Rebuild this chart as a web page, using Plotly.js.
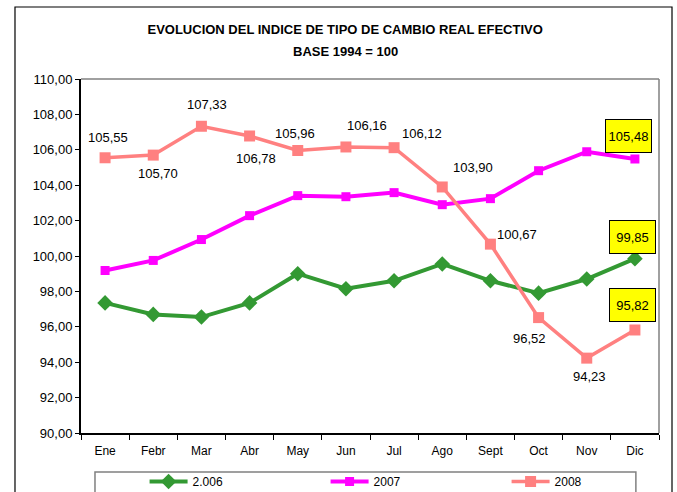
<!DOCTYPE html>
<html>
<head>
<meta charset="utf-8">
<script src="https://cdn.plot.ly/plotly-3.0.1.min.js"></script>
<style>html,body{margin:0;padding:0;background:#fff}#chart{width:677px;height:492px}</style>
</head>
<body>
<div id="chart"></div>
<script>
var months = ["Ene","Febr","Mar","Abr","May","Jun","Jul","Ago","Sept","Oct","Nov","Dic"];
var seriesNames = ["2.006","2007","2008"];
var values2006 = [97.35, 96.70, 96.55, 97.35, 99.00, 98.15, 98.60, 99.55, 98.60, 97.90, 98.70, 99.85];
var values2007 = [99.18, 99.75, 100.93, 102.28, 103.41, 103.35, 103.58, 102.90, 103.24, 104.82, 105.89, 105.48];
var values2008 = [105.55, 105.70, 107.33, 106.78, 105.96, 106.16, 106.12, 103.90, 100.67, 96.52, 94.23, 95.82];
var yTicks = [90,92,94,96,98,100,102,104,106,108,110];
var titleLine1 = 'EVOLUCION DEL INDICE DE TIPO DE CAMBIO REAL EFECTIVO';
var titleLine2 = 'BASE 1994 = 100';

// label offsets (px) for the 2008 series labels
var lblDx2008 = [3,5,6,6,-3,21,28,31,27,-9,3,-2];
var lblDy2008 = [20,-18,22,-23,17,21,14,19,10,-21,-18,25];

function fmt(v){ return v.toFixed(2).replace('.', ','); }

var font = "Liberation Sans, Arial, sans-serif";

var traces = [
  {x: months, y: values2006, name: seriesNames[0], type: 'scatter', mode: 'lines+markers',
   line: {color: '#339933', width: 4}, marker: {symbol: 'diamond', size: 12, color: '#339933'}},
  {x: months, y: values2007, name: seriesNames[1], type: 'scatter', mode: 'lines+markers',
   line: {color: '#FF00FF', width: 4}, marker: {symbol: 'square', size: 9, color: '#FF00FF'}},
  {x: months, y: values2008, name: seriesNames[2], type: 'scatter', mode: 'lines+markers',
   line: {color: '#FF8080', width: 3.5}, marker: {symbol: 'square', size: 11, color: '#FF8080'}}
];

var annotations = [];
for (var i = 0; i < months.length - 1; i++) {
  annotations.push({x: months[i], y: values2008[i], xref: 'x', yref: 'y', text: fmt(values2008[i]),
    showarrow: false, xshift: lblDx2008[i], yshift: lblDy2008[i], font: {family: font, size: 13, color: '#000'}});
}
var last = months.length - 1;
var boxed = [[values2007[last], -6, 23], [values2006[last], -2, 22], [values2008[last], -2, 25]];
boxed.forEach(function(b){
  annotations.push({x: months[last], y: b[0], xref: 'x', yref: 'y', text: fmt(b[0]), showarrow: false,
    xshift: b[1], yshift: b[2], bgcolor: '#FFFF00', bordercolor: '#000', borderwidth: 1,
    width: 43, height: 30, font: {family: font, size: 13, color: '#000'}});
});
annotations.push({x: 0.457, y: (433-52)/354, xref: 'paper', yref: 'paper', text: '<b>' + titleLine2 + '</b>',
  showarrow: false, xanchor: 'center', yanchor: 'middle', font: {family: font, size: 13, color: '#000'}});

var layout = {
  width: 677, height: 492,
  margin: {l: 81, r: 18, t: 79, b: 59, autoexpand: false},
  paper_bgcolor: '#fff', plot_bgcolor: '#fff',
  separators: ',.',
  showlegend: true,
  title: {
    text: '<b>' + titleLine1 + '</b>',
    font: {family: font, size: 13, color: '#000'},
    x: 0.457, xanchor: 'center', xref: 'paper',
    y: 1 - 29/492, yanchor: 'middle', yref: 'container'
  },
  xaxis: {
    type: 'category', categoryorder: 'array', categoryarray: months,
    range: [-0.5, months.length - 0.5], autorange: false,
    showline: true, linecolor: '#000', linewidth: 2,
    ticks: 'outside', ticklen: 5, tickcolor: '#000', tickson: 'boundaries',
    ticklabelstandoff: 6,
    showgrid: false, zeroline: false, fixedrange: true,
    tickfont: {family: font, size: 12, color: '#000'}
  },
  yaxis: {
    range: [90, 110], tickvals: yTicks, tickformat: '.2f',
    showline: true, linecolor: '#000', linewidth: 2,
    ticks: 'outside', ticklen: 4, tickcolor: '#000',
    showgrid: false, zeroline: false, fixedrange: true,
    tickfont: {family: font, size: 13, color: '#000'}
  },
  legend: {
    orientation: 'h', x: 0.11, xanchor: 'left', y: -0.0961, yanchor: 'top',
    font: {family: font, size: 12, color: '#000'},
    bgcolor: 'rgba(0,0,0,0)', borderwidth: 0,
    entrywidth: 128, itemwidth: 38
  },
  shapes: [
    {type: 'rect', xref: 'paper', yref: 'paper', x0: -0.1142, x1: 1.0225, y0: -0.2, y1: 1.2034,
     line: {color: '#000', width: 1.2}, fillcolor: 'rgba(0,0,0,0)', layer: 'below'},
    {type: 'line', xref: 'paper', yref: 'paper', x0: 0, x1: 1, y0: 1, y1: 1, line: {color: '#808080', width: 1.5}},
    {type: 'line', xref: 'paper', yref: 'paper', x0: 1, x1: 1, y0: 0, y1: 1, line: {color: '#808080', width: 1.5}},
    {type: 'rect', xref: 'paper', yref: 'paper', x0: 0.0242, x1: 0.960, y0: -0.2, y1: -0.1102,
     line: {color: '#808080', width: 1.5}, fillcolor: 'rgba(0,0,0,0)'}
  ],
  annotations: annotations
};

Plotly.newPlot('chart', traces, layout, {displayModeBar: false, staticPlot: true});
</script>
</body>
</html>
